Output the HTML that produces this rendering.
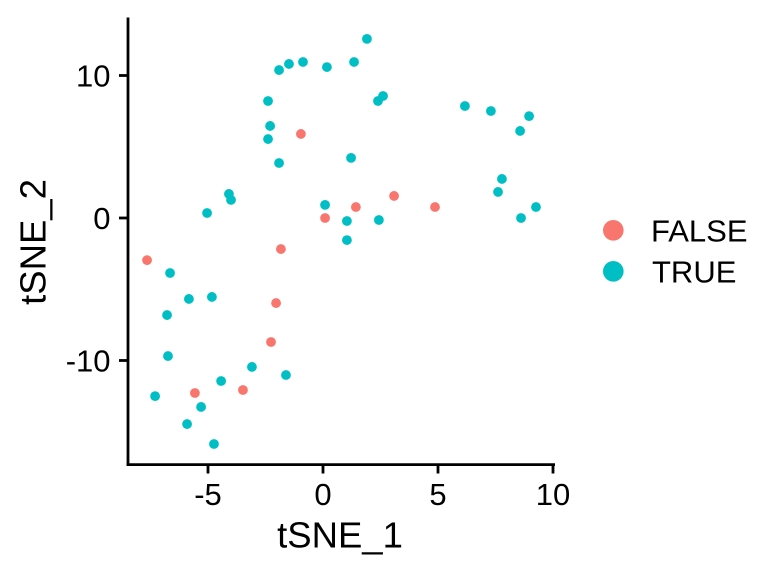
<!DOCTYPE html>
<html>
<head>
<meta charset="utf-8">
<title>tSNE scatter</title>
<style>
html,body{margin:0;padding:0;background:#fff;}
svg{display:block;font-family:"Liberation Sans",sans-serif;}
</style>
</head>
<body>
<svg id="chart" width="768" height="576" viewBox="0 0 768 576" xmlns="http://www.w3.org/2000/svg">
<rect width="768" height="576" fill="#ffffff"/>
<g id="points"></g>
<g id="axes"></g>
<text x="340" y="547.5" font-size="36.5" text-anchor="middle" fill="#000">tSNE_1</text>
<text transform="translate(45.5,242) rotate(-90)" font-size="36.5" text-anchor="middle" fill="#000">tSNE_2</text>
<g>
<g>
<circle cx="613.3" cy="230.3" r="10.3" fill="#F8766D"/>
<text x="651" y="241.7" font-size="31" fill="#000">FALSE</text>
</g>
<g>
<circle cx="613.3" cy="271.3" r="10.3" fill="#00BFC4"/>
<text x="652" y="282.7" font-size="31" fill="#000">TRUE</text>
</g>
</g>
</svg>
<script>
const xTicks = [-5, 0, 5, 10];
const yTicks = [-10, 0, 10];
const falseX = [-7.65, -0.96, -1.83, 0.09, 1.43, 3.09, 4.87, -2.04, -2.26, -5.57, -3.48];
const falseY = [-2.96, 5.90, -2.18, 0, 0.77, 1.55, 0.77, -5.97, -8.70, -12.28, -12.07];
const trueX = [1.91, 1.35, 0.17, -0.87, -1.48, -1.91, -2.39, -2.30, -2.39, -1.91, 1.22, 2.61, 2.39, 6.17, 7.30, 8.96, 8.57, 7.78, 7.61, 0.09, 1.04, 2.43, 1.04, 8.61, 9.26, -4.09, -4.0, -5.04, -6.65, -5.83, -4.83, -6.78, -6.74, -7.30, -3.09, -4.43, -1.61, -5.30, -5.91, -4.74];
const trueY = [12.57, 10.95, 10.59, 10.95, 10.81, 10.38, 8.21, 6.46, 5.54, 3.86, 4.22, 8.56, 8.21, 7.86, 7.51, 7.15, 6.11, 2.74, 1.83, 0.92, -0.21, -0.14, -1.55, 0, 0.77, 1.69, 1.27, 0.35, -3.86, -5.68, -5.54, -6.81, -9.69, -12.50, -10.45, -11.44, -11.02, -13.26, -14.46, -15.86];

const NS = 'http://www.w3.org/2000/svg';
function sx(v) { return 323 + v * 23; }
function sy(v) { return 218 - v * 14.25; }
function make(tag, attrs, parent) {
  const el = document.createElementNS(NS, tag);
  for (const k in attrs) el.setAttribute(k, attrs[k]);
  parent.appendChild(el);
  return el;
}
const axes = document.getElementById('axes');
const pts = document.getElementById('points');

function drawSeries(xs, ys, color, name) {
  xs.forEach(function (x, i) {
    const c = make('circle', {cx: sx(x), cy: sy(ys[i]), r: 4.9, fill: color}, pts);
    
    
  });
}
drawSeries(falseX, falseY, '#F8766D', 'false');
drawSeries(trueX, trueY, '#00BFC4', 'true');

const yLine = make('line', {x1: 128, x2: 128, y1: 17.5, y2: 466, stroke: '#000', 'stroke-width': 2.8}, axes);


const xLine = make('line', {x1: 126.6, x2: 555, y1: 464.6, y2: 464.6, stroke: '#000', 'stroke-width': 2.8}, axes);



xTicks.forEach(function (t) {
  const m = make('line', {x1: sx(t), x2: sx(t), y1: 464.6, y2: 473.5, stroke: '#000', 'stroke-width': 2.8}, axes);
  
  
  const l = make('text', {x: sx(t), y: 505, 'font-size': 31, 'text-anchor': 'middle', fill: '#000'}, axes);
  
  
  l.textContent = String(t);
});
yTicks.forEach(function (t) {
  const m = make('line', {x1: 119, x2: 128, y1: sy(t), y2: sy(t), stroke: '#000', 'stroke-width': 2.8}, axes);
  
  
  const l = make('text', {x: 110.5, y: sy(t) + 11.2, 'font-size': 31, 'text-anchor': 'end', fill: '#000'}, axes);
  
  
  l.textContent = String(t);
});
</script>
</body>
</html>
